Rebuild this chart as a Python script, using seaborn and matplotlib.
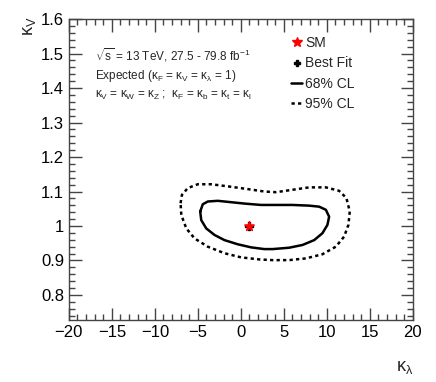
import numpy as np
import pandas as pd
import matplotlib
matplotlib.use("Agg")
import matplotlib.pyplot as plt
import seaborn as sns
from matplotlib.lines import Line2D
from matplotlib.ticker import MultipleLocator

# contour points (kappa_lambda, kappa_V)
cl68_kl = [-4.73, -4.43, -3.85, -2.69, -1.14, 0.41, 2.34, 4.08, 6.01, 7.94, 9.10, 9.88, 10.26,
           10.06, 9.48, 8.52, 7.17, 5.62, 3.69, 2.72, 1.18, -0.37, -1.91, -3.07, -4.03, -4.61, -4.73]
cl68_kv = [1.042, 1.063, 1.071, 1.073, 1.069, 1.065, 1.061, 1.061, 1.061, 1.059, 1.056, 1.047, 1.027,
           1.003, 0.979, 0.959, 0.945, 0.937, 0.933, 0.933, 0.938, 0.947, 0.959, 0.974, 0.993, 1.017, 1.042]

cl95_kl = [-7.01, -6.86, -6.17, -5.01, -3.45, -1.53, 0.79, 2.72, 4.08, 6.01, 7.94, 9.88, 11.42,
           12.27, 12.66, 12.50, 12.0, 11.04, 9.48, 7.56, 5.62, 3.69, 2.14, 0.02, -1.91, -3.85,
           -5.39, -6.35, -6.93, -7.01]
cl95_kv = [1.066, 1.090, 1.110, 1.121, 1.121, 1.115, 1.107, 1.100, 1.098, 1.105, 1.112, 1.112, 1.102,
           1.081, 1.042, 1.003, 0.969, 0.940, 0.918, 0.906, 0.901, 0.901, 0.903, 0.909, 0.921, 0.940,
           0.964, 0.993, 1.032, 1.066]

sm_point = (1.0, 1.0)
best_fit = (1.0, 1.0)

sns.set_style("ticks")
plt.rcParams['font.family'] = ['Liberation Sans', 'DejaVu Sans']
plt.rcParams['mathtext.fontset'] = 'custom'
plt.rcParams['mathtext.rm'] = 'Liberation Sans'
plt.rcParams['mathtext.it'] = 'Liberation Sans'

fig = plt.figure(figsize=(4.36, 3.82), dpi=100)
ax = fig.add_axes([0.158, 0.162, 0.789, 0.788])

df68 = pd.DataFrame({'kl': cl68_kl, 'kv': cl68_kv})
df95 = pd.DataFrame({'kl': cl95_kl, 'kv': cl95_kv})
sns.lineplot(data=df95, x='kl', y='kv', sort=False, estimator=None, color='black',
             lw=1.8, linestyle=(0, (1.3, 1.3)), ax=ax)
sns.lineplot(data=df68, x='kl', y='kv', sort=False, estimator=None, color='black',
             lw=1.8, ax=ax)
ax.scatter([best_fit[0]], [best_fit[1]], marker='P', s=30, color='black', zorder=3)
ax.scatter([sm_point[0]], [sm_point[1]], marker='*', s=50, color='red', zorder=4)

ax.xaxis.set_major_locator(MultipleLocator(5))
ax.xaxis.set_minor_locator(MultipleLocator(1))
ax.yaxis.set_major_locator(MultipleLocator(0.1))
ax.yaxis.set_minor_locator(MultipleLocator(0.02))
ax.set_xlim(-20, 20)
ax.set_ylim(0.727, 1.6)
yt = ax.get_yticks()
xt = ax.get_xticks()
ax.set_yticks(yt)
ax.set_yticklabels([f"{v:.1f}".rstrip('0').rstrip('.') for v in yt])
ax.set_xticks(xt)
ax.set_xticklabels([f"{v:g}".replace('-', '\u2212') for v in xt])
ax.set_xlim(-20, 20)
ax.set_ylim(0.727, 1.6)
ax.tick_params(which='both', direction='in', top=True, right=True, labelsize=12, width=1,
               colors='#444444', labelcolor='black')
ax.tick_params(which='major', length=9)
ax.tick_params(which='minor', length=4.5)
for s in ax.spines.values():
    s.set_linewidth(1)
    s.set_color('#444444')
ax.set_xlabel('')
ax.set_ylabel('')

fig.text(0.928, 0.03, r'$\kappa_\lambda$', fontsize=13, ha='center')
fig.text(0.068, 0.932, r'$\kappa_V$', fontsize=13, rotation=90, va='center', ha='center')

ax.text(0.075, 0.88, r'$\sqrt{s}$ = 13 TeV, 27.5 - 79.8 fb$^{-1}$', transform=ax.transAxes,
        fontsize=8.5, va='center')
ax.text(0.075, 0.81, r'Expected ($\kappa_F$ = $\kappa_V$ = $\kappa_\lambda$ = 1)', transform=ax.transAxes,
        fontsize=8.5, va='center')
ax.text(0.075, 0.745, r'$\kappa_V$ = $\kappa_W$ = $\kappa_Z$ ;  $\kappa_F$ = $\kappa_b$ = $\kappa_t$ = $\kappa_l$',
        transform=ax.transAxes, fontsize=8.5, va='center')

handles = [
    Line2D([], [], marker='*', color='red', ls='none', markersize=7),
    Line2D([], [], marker='P', color='black', ls='none', markersize=5),
    Line2D([], [], color='black', lw=1.8),
    Line2D([], [], color='black', lw=1.8, linestyle=(0, (1.3, 1.3))),
]
ax.legend(handles, ['SM', 'Best Fit', '68% CL', '95% CL'], loc='upper left',
          bbox_to_anchor=(0.61, 0.985), frameon=False, fontsize=10,
          handlelength=0.8, handletextpad=0.2, labelspacing=0.45)

fig.savefig('out.png', dpi=100)
